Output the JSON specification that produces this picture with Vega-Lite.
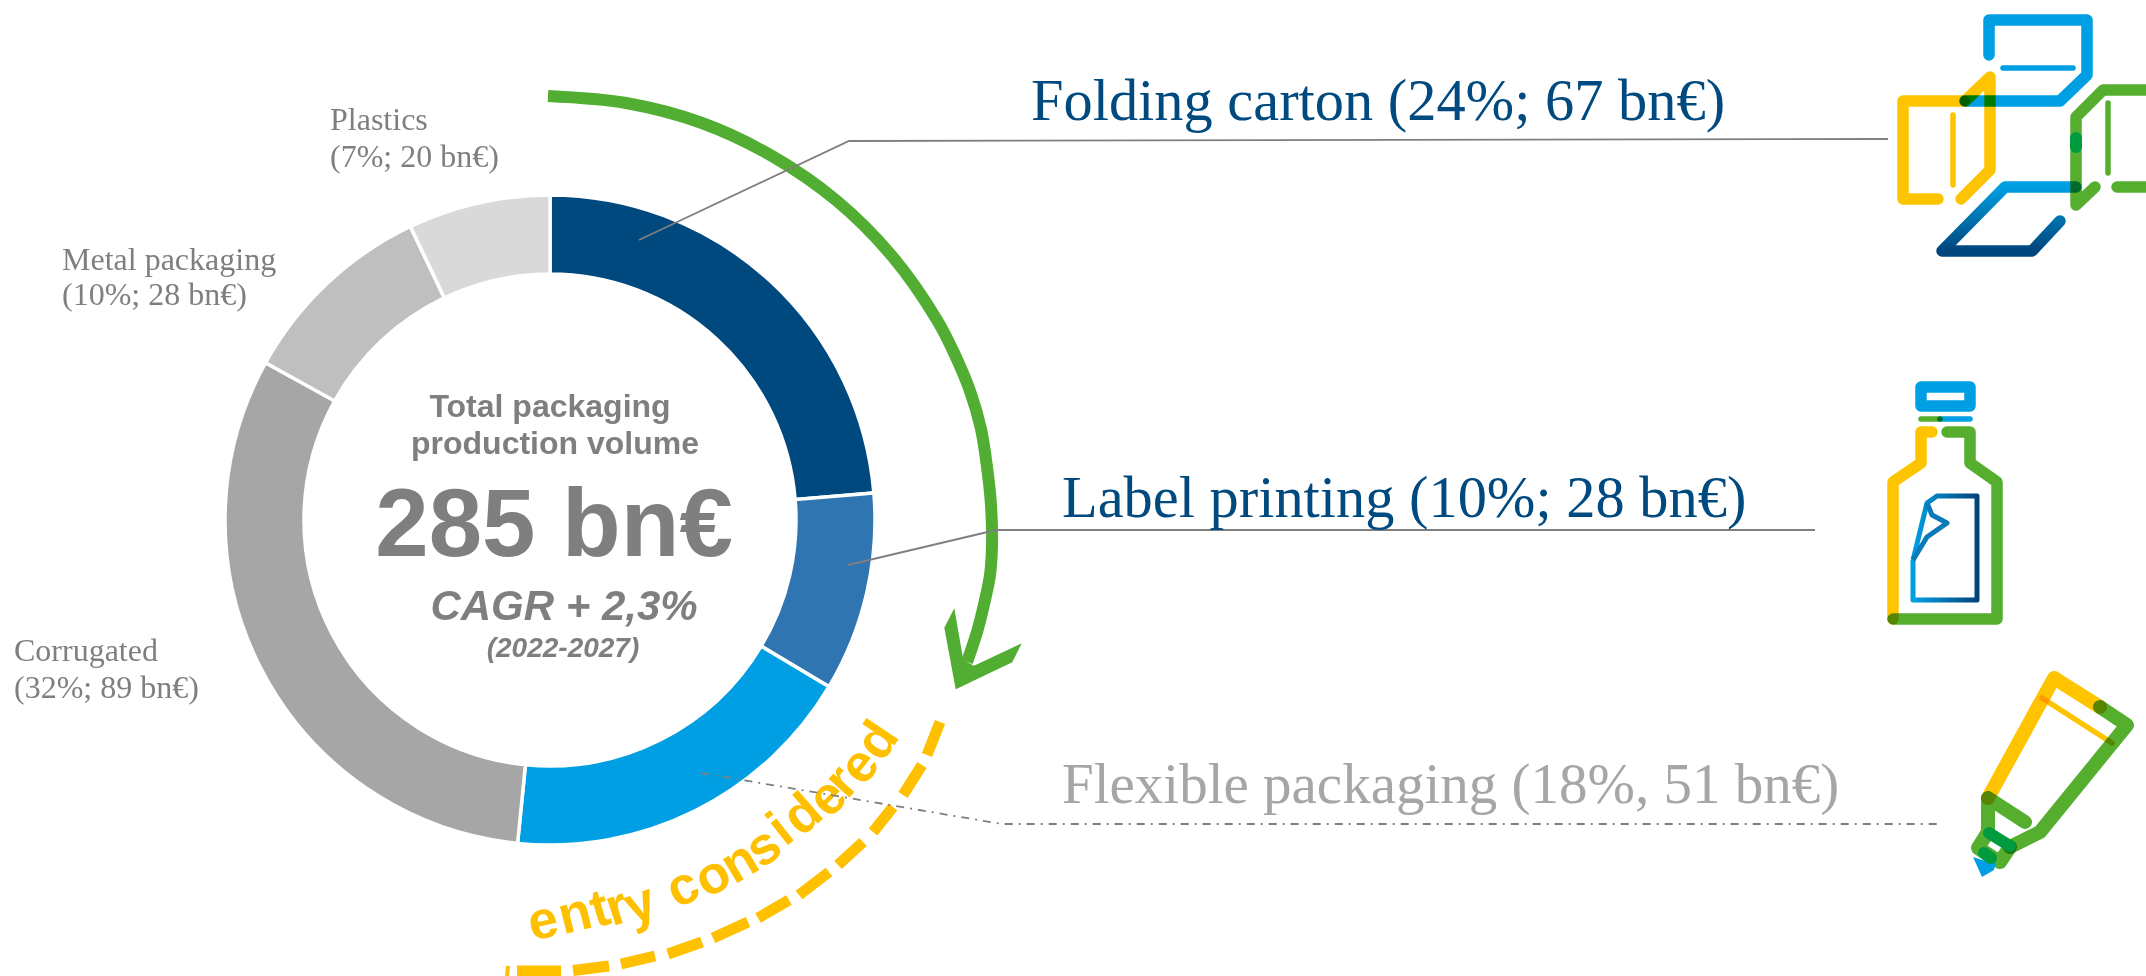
{
  "$schema": "https://vega.github.io/schema/vega-lite/v6.json",
  "autosize": {"type": "none"},
  "width": 2146,
  "height": 976,
  "padding": 0,
  "background": "white",
  "view": {"stroke": null},
  "datasets": {
    "segments": [
      {"segment": "Folding carton", "rank": 1, "share": 24, "value": 67},
      {"segment": "Label printing", "rank": 2, "share": 10, "value": 28},
      {"segment": "Flexible packaging", "rank": 3, "share": 18, "value": 51},
      {"segment": "Corrugated", "rank": 4, "share": 32, "value": 89},
      {"segment": "Metal packaging", "rank": 5, "share": 10, "value": 28},
      {"segment": "Plastics", "rank": 6, "share": 7, "value": 20}
    ],
    "growthArc": [
      {"i":0,"x":548,"y":96},{"i":1,"x":626,"y":103},{"i":2,"x":702,"y":123},{"i":3,"x":772,"y":156},
      {"i":4,"x":837,"y":201},{"i":5,"x":892,"y":256},{"i":6,"x":937,"y":320},{"i":7,"x":955,"y":355},
      {"i":8,"x":970,"y":391},{"i":9,"x":981,"y":429},{"i":10,"x":987,"y":467},{"i":11,"x":991,"y":505},
      {"i":12,"x":992,"y":545},{"i":13,"x":990,"y":575},{"i":14,"x":985,"y":600},{"i":15,"x":977,"y":632},
      {"i":16,"x":967,"y":662}
    ],
    "arrowHead": [
      {"x":944.3,"y":627.7,"y2":627.7},{"x":954.3,"y":608.3,"y2":681.7},{"x":955.7,"y":616.3,"y2":689.3},
      {"x":963.3,"y":660,"y2":685.7},{"x":974,"y":665.7,"y2":680.6},{"x":1012.3,"y":647.7,"y2":662.3},
      {"x":1021.7,"y":643.3,"y2":643.3}
    ],
    "entryDashes": [
      {"d":1,"i":0,"x":940,"y":722},{"d":1,"i":1,"x":927,"y":755},
      {"d":2,"i":0,"x":922,"y":765},{"d":2,"i":1,"x":903,"y":795},
      {"d":3,"i":0,"x":893,"y":807},{"d":3,"i":1,"x":873,"y":832},
      {"d":4,"i":0,"x":863,"y":842},{"d":4,"i":1,"x":838,"y":865},
      {"d":5,"i":0,"x":829,"y":872},{"d":5,"i":1,"x":799,"y":895},
      {"d":6,"i":0,"x":789,"y":900},{"d":6,"i":1,"x":758,"y":918},
      {"d":7,"i":0,"x":748,"y":922},{"d":7,"i":1,"x":713,"y":938},
      {"d":8,"i":0,"x":702,"y":942},{"d":8,"i":1,"x":668,"y":954},
      {"d":9,"i":0,"x":655,"y":956},{"d":9,"i":1,"x":621,"y":964},
      {"d":10,"i":0,"x":609,"y":966},{"d":10,"i":1,"x":573,"y":970.5},
      {"d":11,"i":0,"x":561,"y":971},{"d":11,"i":1,"x":517,"y":971}
    ],
    "entryLetters": [
      {"n":0,"ch":"e","x":543,"y":922,"turn":-12},{"n":1,"ch":"n","x":575,"y":915,"turn":-14},
      {"n":2,"ch":"t","x":600,"y":910,"turn":-16},{"n":3,"ch":"r","x":617,"y":908,"turn":-18},
      {"n":4,"ch":"y","x":640,"y":905,"turn":-20},{"n":5,"ch":"c","x":683,"y":888,"turn":-25},
      {"n":6,"ch":"o","x":713,"y":877,"turn":-28},{"n":7,"ch":"n","x":740,"y":863,"turn":-31},
      {"n":8,"ch":"s","x":764,"y":848,"turn":-35},{"n":9,"ch":"i","x":781,"y":830,"turn":-38},
      {"n":10,"ch":"d","x":803,"y":815,"turn":-41},{"n":11,"ch":"e","x":828,"y":798,"turn":-45},
      {"n":12,"ch":"r","x":842,"y":782,"turn":-48},{"n":13,"ch":"e","x":860,"y":766,"turn":-52},
      {"n":14,"ch":"d","x":878,"y":741,"turn":-56}
    ],
    "iconStrokes": [
      {"p":"boxTop","ink":"blue","i":0,"x":1989,"y":55},{"p":"boxTop","ink":"blue","i":1,"x":1989,"y":20},
      {"p":"boxTop","ink":"blue","i":2,"x":2087,"y":20},{"p":"boxTop","ink":"blue","i":3,"x":2087,"y":75},
      {"p":"boxTop","ink":"blue","i":4,"x":2060,"y":101},{"p":"boxTop","ink":"blue","i":5,"x":1965,"y":101},
      {"p":"boxLeft","ink":"yellow","i":0,"x":1938,"y":199},{"p":"boxLeft","ink":"yellow","i":1,"x":1903,"y":199},
      {"p":"boxLeft","ink":"yellow","i":2,"x":1903,"y":101},{"p":"boxLeft","ink":"yellow","i":3,"x":1964,"y":101},
      {"p":"boxLeftB","ink":"yellow","i":0,"x":1965,"y":101},{"p":"boxLeftB","ink":"yellow","i":1,"x":1990,"y":77},
      {"p":"boxLeftB","ink":"yellow","i":2,"x":1990,"y":170},{"p":"boxLeftB","ink":"yellow","i":3,"x":1961,"y":199},
      {"p":"boxRight","ink":"green","i":0,"x":2095,"y":187},{"p":"boxRight","ink":"green","i":1,"x":2076,"y":205},
      {"p":"boxRight","ink":"green","i":2,"x":2076,"y":117},{"p":"boxRight","ink":"green","i":3,"x":2103,"y":90},
      {"p":"boxRight","ink":"green","i":4,"x":2150,"y":90},
      {"p":"boxRightB","ink":"green","i":0,"x":2117,"y":187},{"p":"boxRightB","ink":"green","i":1,"x":2150,"y":187},
      {"p":"cap","ink":"blue","i":0,"x":1921,"y":387},{"p":"cap","ink":"blue","i":1,"x":1970,"y":387},
      {"p":"cap","ink":"blue","i":2,"x":1970,"y":406},{"p":"cap","ink":"blue","i":3,"x":1921,"y":406},
      {"p":"cap","ink":"blue","i":4,"x":1921,"y":387},
      {"p":"shoulderL","ink":"yellow","i":0,"x":1932,"y":432},{"p":"shoulderL","ink":"yellow","i":1,"x":1921,"y":432},
      {"p":"shoulderL","ink":"yellow","i":2,"x":1921,"y":463},{"p":"shoulderL","ink":"yellow","i":3,"x":1893,"y":482},
      {"p":"shoulderL","ink":"yellow","i":4,"x":1893,"y":619},
      {"p":"shoulderR","ink":"green","i":0,"x":1947,"y":432},{"p":"shoulderR","ink":"green","i":1,"x":1970,"y":432},
      {"p":"shoulderR","ink":"green","i":2,"x":1970,"y":463},{"p":"shoulderR","ink":"green","i":3,"x":1997,"y":482},
      {"p":"shoulderR","ink":"green","i":4,"x":1997,"y":619},{"p":"shoulderR","ink":"green","i":5,"x":1893,"y":619}
    ],
    "iconThin": [
      {"p":"t1","ink":"blue","i":0,"x":2003,"y":68},{"p":"t1","ink":"blue","i":1,"x":2073,"y":68},
      {"p":"t2","ink":"yellow","i":0,"x":1953,"y":115},{"p":"t2","ink":"yellow","i":1,"x":1953,"y":185},
      {"p":"t3","ink":"green","i":0,"x":2108,"y":103},{"p":"t3","ink":"green","i":1,"x":2108,"y":173},
      {"p":"t4","ink":"green","i":0,"x":1921,"y":419},{"p":"t4","ink":"green","i":1,"x":1940,"y":419},
      {"p":"t5","ink":"blue","i":0,"x":1940,"y":419},{"p":"t5","ink":"blue","i":1,"x":1970,"y":419},
      {"p":"t6","ink":"yellow","i":0,"x":2042,"y":698},{"p":"t6","ink":"yellow","i":1,"x":2112,"y":743}
    ],
    "tubeStrokes": [
      {"p":"a","ink":"yellow","i":0,"x":1988,"y":798},{"p":"a","ink":"yellow","i":1,"x":2054,"y":678},
      {"p":"a","ink":"yellow","i":2,"x":2100,"y":707},
      {"p":"b","ink":"green","i":0,"x":2100,"y":707},{"p":"b","ink":"green","i":1,"x":2127,"y":725},
      {"p":"b","ink":"green","i":2,"x":2040,"y":832},{"p":"b","ink":"green","i":3,"x":2010,"y":847},
      {"p":"c","ink":"green","i":0,"x":2025,"y":822},{"p":"c","ink":"green","i":1,"x":1988,"y":798},
      {"p":"c","ink":"green","i":2,"x":1988,"y":832},{"p":"c","ink":"green","i":3,"x":1978,"y":848},
      {"p":"c","ink":"green","i":4,"x":2000,"y":862},{"p":"c","ink":"green","i":5,"x":2010,"y":847}
    ],
    "overlapMarks": [
      {"p":"spot","i":0,"x":2076,"y":138},{"p":"spot","i":1,"x":2076,"y":147},
      {"p":"band","i":0,"x":1989,"y":833},{"p":"band","i":1,"x":2010,"y":846},
      {"p":"nib","i":0,"x":1984,"y":853},{"p":"nib","i":1,"x":1991,"y":858}
    ],
    "tubeTip": [
      {"x":1973,"y":857,"y2":857},{"x":1982,"y":860,"y2":877},{"x":1994,"y":862,"y2":870},{"x":1996,"y":862,"y2":862}
    ],
    "boxBase": [
      {"i":0,"x":2076,"y":187},{"i":1,"x":2005,"y":187},{"i":2,"x":1942,"y":251},{"i":3,"x":2032,"y":251},{"i":4,"x":2060,"y":221}
    ],
    "boxBaseLine": [{"i":0,"x":1992,"y":218},{"i":1,"x":2045,"y":218}],
    "bottleLabel": [
      {"p":"sheet","i":0,"x":1913,"y":560},{"p":"sheet","i":1,"x":1913,"y":600},{"p":"sheet","i":2,"x":1977,"y":600},
      {"p":"sheet","i":3,"x":1977,"y":496},{"p":"sheet","i":4,"x":1937,"y":496},{"p":"sheet","i":5,"x":1927,"y":503},
      {"p":"sheet","i":6,"x":1913,"y":560}
    ],
    "bottleCurl": [
      {"i":0,"x":1927,"y":503},{"i":1,"x":1932,"y":515},{"i":2,"x":1947,"y":523},{"i":3,"x":1927,"y":537},{"i":4,"x":1913,"y":560}
    ],
    "leaders": [
      {"l":"folding","i":0,"x":639,"y":240},{"l":"folding","i":1,"x":849,"y":141},{"l":"folding","i":2,"x":1888,"y":139},
      {"l":"label","i":0,"x":848,"y":565},{"l":"label","i":1,"x":996,"y":530},{"l":"label","i":2,"x":1815,"y":530}
    ],
    "flexibleLeader": [
      {"i":0,"x":701,"y":773},{"i":1,"x":1002,"y":824},{"i":2,"x":1939,"y":824}
    ],
    "headlines": [
      {"t":"Folding carton (24%; 67 bn€)","x":1031,"y":120},
      {"t":"Label printing (10%; 28 bn€)","x":1062,"y":517}
    ],
    "sideLabels": [
      {"t":"Plastics","x":330,"y":130},{"t":"(7%; 20 bn€)","x":330,"y":167},
      {"t":"Metal packaging","x":62,"y":270},{"t":"(10%; 28 bn€)","x":62,"y":305},
      {"t":"Corrugated","x":14,"y":661},{"t":"(32%; 89 bn€)","x":14,"y":698}
    ],
    "centreTitle": [
      {"t":"Total packaging","x":550,"y":417},{"t":"production volume","x":555,"y":454}
    ]
  },
  "encoding": {
    "x": {"type": "quantitative", "scale": {"domain": [0, 2146], "nice": false, "zero": false}, "axis": null},
    "y": {"type": "quantitative", "scale": {"domain": [976, 0], "nice": false, "zero": false}, "axis": null}
  },
  "layer": [
    {
      "data": {"name": "segments"},
      "mark": {"type": "arc", "outerRadius": 325, "innerRadius": 246, "stroke": "white", "strokeWidth": 3.5},
      "encoding": {
        "x": {"datum": 550, "type": "quantitative"},
        "y": {"datum": 520, "type": "quantitative"},
        "theta": {"field": "value", "type": "quantitative", "stack": true},
        "order": {"field": "rank"},
        "color": {
          "field": "segment", "type": "nominal", "legend": null,
          "scale": {
            "domain": ["Folding carton", "Label printing", "Flexible packaging", "Corrugated", "Metal packaging", "Plastics"],
            "range": ["#00497f", "#2e75b1", "#009fe3", "#a6a6a6", "#bfbfbf", "#d9d9d9"]
          }
        }
      }
    },
    {
      "data": {"name": "growthArc"},
      "mark": {"type": "line", "color": "#52ae32", "strokeWidth": 12, "interpolate": "catmull-rom", "strokeCap": "butt"},
      "encoding": {"x": {"field": "x"}, "y": {"field": "y"}, "order": {"field": "i"}}
    },
    {
      "data": {"name": "arrowHead"},
      "mark": {"type": "area", "color": "#52ae32", "orient": "vertical"},
      "encoding": {"x": {"field": "x"}, "y": {"field": "y"}, "y2": {"field": "y2"}}
    },
    {
      "data": {"name": "entryDashes"},
      "mark": {"type": "line", "color": "#ffc000", "strokeWidth": 11, "strokeCap": "butt"},
      "encoding": {"x": {"field": "x"}, "y": {"field": "y"}, "detail": {"field": "d"}, "order": {"field": "i"}}
    },
    {
      "data": {"values": [{"i": 0, "x": 508, "y": 966}, {"i": 1, "x": 507, "y": 976}]},
      "mark": {"type": "line", "color": "#ffc000", "strokeWidth": 4},
      "encoding": {"x": {"field": "x"}, "y": {"field": "y"}, "order": {"field": "i"}}
    },
    {
      "data": {"name": "entryLetters"},
      "mark": {"type": "text", "font": "Liberation Sans", "fontWeight": "bold", "fontSize": 53, "color": "#ffc000", "align": "center", "baseline": "middle"},
      "encoding": {
        "x": {"field": "x"}, "y": {"field": "y"},
        "text": {"field": "ch"},
        "angle": {"field": "turn", "type": "quantitative", "scale": null}
      }
    },
    {
      "data": {"name": "leaders"},
      "mark": {"type": "line", "color": "#7f7f7f", "strokeWidth": 1.8},
      "encoding": {"x": {"field": "x"}, "y": {"field": "y"}, "detail": {"field": "l"}, "order": {"field": "i"}}
    },
    {
      "data": {"name": "flexibleLeader"},
      "mark": {"type": "line", "color": "#7f7f7f", "strokeWidth": 1.8, "strokeDash": [8, 6, 2, 6]},
      "encoding": {"x": {"field": "x"}, "y": {"field": "y"}, "order": {"field": "i"}}
    },
    {
      "data": {"name": "iconStrokes"},
      "mark": {"type": "line", "strokeWidth": 11.5, "strokeCap": "round", "strokeJoin": "round", "blend": "multiply"},
      "encoding": {
        "x": {"field": "x"}, "y": {"field": "y"}, "detail": {"field": "p"}, "order": {"field": "i"},
        "color": {"field": "ink", "type": "nominal", "legend": null, "scale": {"domain": ["blue", "yellow", "green"], "range": ["#009fe3", "#ffc400", "#56ae2e"]}}
      }
    },
    {
      "data": {"name": "tubeStrokes"},
      "mark": {"type": "line", "strokeWidth": 14, "strokeCap": "round", "strokeJoin": "round", "blend": "multiply"},
      "encoding": {
        "x": {"field": "x"}, "y": {"field": "y"}, "detail": {"field": "p"}, "order": {"field": "i"},
        "color": {"field": "ink", "type": "nominal", "legend": null, "scale": {"domain": ["blue", "yellow", "green"], "range": ["#009fe3", "#ffc400", "#56ae2e"]}}
      }
    },
    {
      "data": {"name": "iconThin"},
      "mark": {"type": "line", "strokeWidth": 5.5, "strokeCap": "round", "blend": "multiply"},
      "encoding": {
        "x": {"field": "x"}, "y": {"field": "y"}, "detail": {"field": "p"}, "order": {"field": "i"},
        "color": {"field": "ink", "type": "nominal", "legend": null, "scale": {"domain": ["blue", "yellow", "green"], "range": ["#009fe3", "#ffc400", "#56ae2e"]}}
      }
    },
    {
      "data": {"name": "tubeTip"},
      "mark": {"type": "area", "color": "#009fe3", "orient": "vertical"},
      "encoding": {"x": {"field": "x"}, "y": {"field": "y"}, "y2": {"field": "y2"}}
    },
    {
      "data": {"name": "overlapMarks"},
      "mark": {"type": "line", "color": "#009b3e", "strokeWidth": 12, "strokeCap": "round"},
      "encoding": {"x": {"field": "x"}, "y": {"field": "y"}, "detail": {"field": "p"}, "order": {"field": "i"}}
    },
    {
      "data": {"name": "boxBase"},
      "mark": {
        "type": "line", "strokeWidth": 11.5, "strokeCap": "round", "strokeJoin": "round", "blend": "multiply",
        "color": {"gradient": "linear", "x1": 0, "y1": 0, "x2": 0, "y2": 1, "stops": [{"offset": 0, "color": "#009fe3"}, {"offset": 1, "color": "#00457c"}]}
      },
      "encoding": {"x": {"field": "x"}, "y": {"field": "y"}, "order": {"field": "i"}}
    },
    {
      "data": {"name": "boxBaseLine"},
      "mark": {
        "type": "line", "strokeWidth": 5.5, "strokeCap": "butt",
        "color": {"gradient": "linear", "x1": 0, "y1": 0, "x2": 1, "y2": 0, "stops": [{"offset": 0, "color": "#00457c"}, {"offset": 1, "color": "#009fe3"}]}
      },
      "encoding": {"x": {"field": "x"}, "y": {"field": "y"}, "order": {"field": "i"}}
    },
    {
      "data": {"name": "bottleLabel"},
      "mark": {
        "type": "line", "strokeWidth": 5, "strokeJoin": "round",
        "color": {"gradient": "linear", "x1": 0, "y1": 0, "x2": 1, "y2": 0, "stops": [{"offset": 0, "color": "#009fe3"}, {"offset": 1, "color": "#00457c"}]}
      },
      "encoding": {"x": {"field": "x"}, "y": {"field": "y"}, "order": {"field": "i"}}
    },
    {
      "data": {"name": "bottleCurl"},
      "mark": {"type": "line", "strokeWidth": 5, "strokeJoin": "round", "color": "#0a7ab8"},
      "encoding": {"x": {"field": "x"}, "y": {"field": "y"}, "order": {"field": "i"}}
    },
    {
      "data": {"name": "headlines"},
      "mark": {"type": "text", "font": "Liberation Serif", "fontSize": 58.4, "align": "left", "baseline": "alphabetic", "color": "#004a80"},
      "encoding": {"x": {"field": "x"}, "y": {"field": "y"}, "text": {"field": "t"}}
    },
    {
      "data": {"values": [{"t": "Flexible packaging (18%, 51 bn€)"}]},
      "mark": {"type": "text", "font": "Liberation Serif", "fontSize": 57, "align": "left", "baseline": "alphabetic", "color": "#a6a6a6"},
      "encoding": {"x": {"datum": 1062, "type": "quantitative"}, "y": {"datum": 803, "type": "quantitative"}, "text": {"field": "t"}}
    },
    {
      "data": {"name": "sideLabels"},
      "mark": {"type": "text", "font": "Liberation Serif", "fontSize": 32, "align": "left", "baseline": "alphabetic", "color": "#7f7f7f"},
      "encoding": {"x": {"field": "x"}, "y": {"field": "y"}, "text": {"field": "t"}}
    },
    {
      "data": {"name": "centreTitle"},
      "mark": {"type": "text", "font": "Liberation Sans", "fontWeight": "bold", "fontSize": 32, "align": "center", "baseline": "alphabetic", "color": "#7f7f7f"},
      "encoding": {"x": {"field": "x"}, "y": {"field": "y"}, "text": {"field": "t"}}
    },
    {
      "data": {"values": [{"t": "285 bn€"}]},
      "mark": {"type": "text", "font": "Liberation Sans", "fontWeight": "bold", "fontSize": 96, "align": "center", "baseline": "alphabetic", "color": "#7f7f7f"},
      "encoding": {"x": {"datum": 554, "type": "quantitative"}, "y": {"datum": 556, "type": "quantitative"}, "text": {"field": "t"}}
    },
    {
      "data": {"values": [{"t": "CAGR + 2,3%"}]},
      "mark": {"type": "text", "font": "Liberation Sans", "fontWeight": "bold", "fontStyle": "italic", "fontSize": 42, "align": "center", "baseline": "alphabetic", "color": "#7f7f7f"},
      "encoding": {"x": {"datum": 564, "type": "quantitative"}, "y": {"datum": 620, "type": "quantitative"}, "text": {"field": "t"}}
    },
    {
      "data": {"values": [{"t": "(2022-2027)"}]},
      "mark": {"type": "text", "font": "Liberation Sans", "fontWeight": "bold", "fontStyle": "italic", "fontSize": 28, "align": "center", "baseline": "alphabetic", "color": "#7f7f7f"},
      "encoding": {"x": {"datum": 563, "type": "quantitative"}, "y": {"datum": 657, "type": "quantitative"}, "text": {"field": "t"}}
    }
  ],
  "resolve": {"scale": {"color": "independent"}}
}
